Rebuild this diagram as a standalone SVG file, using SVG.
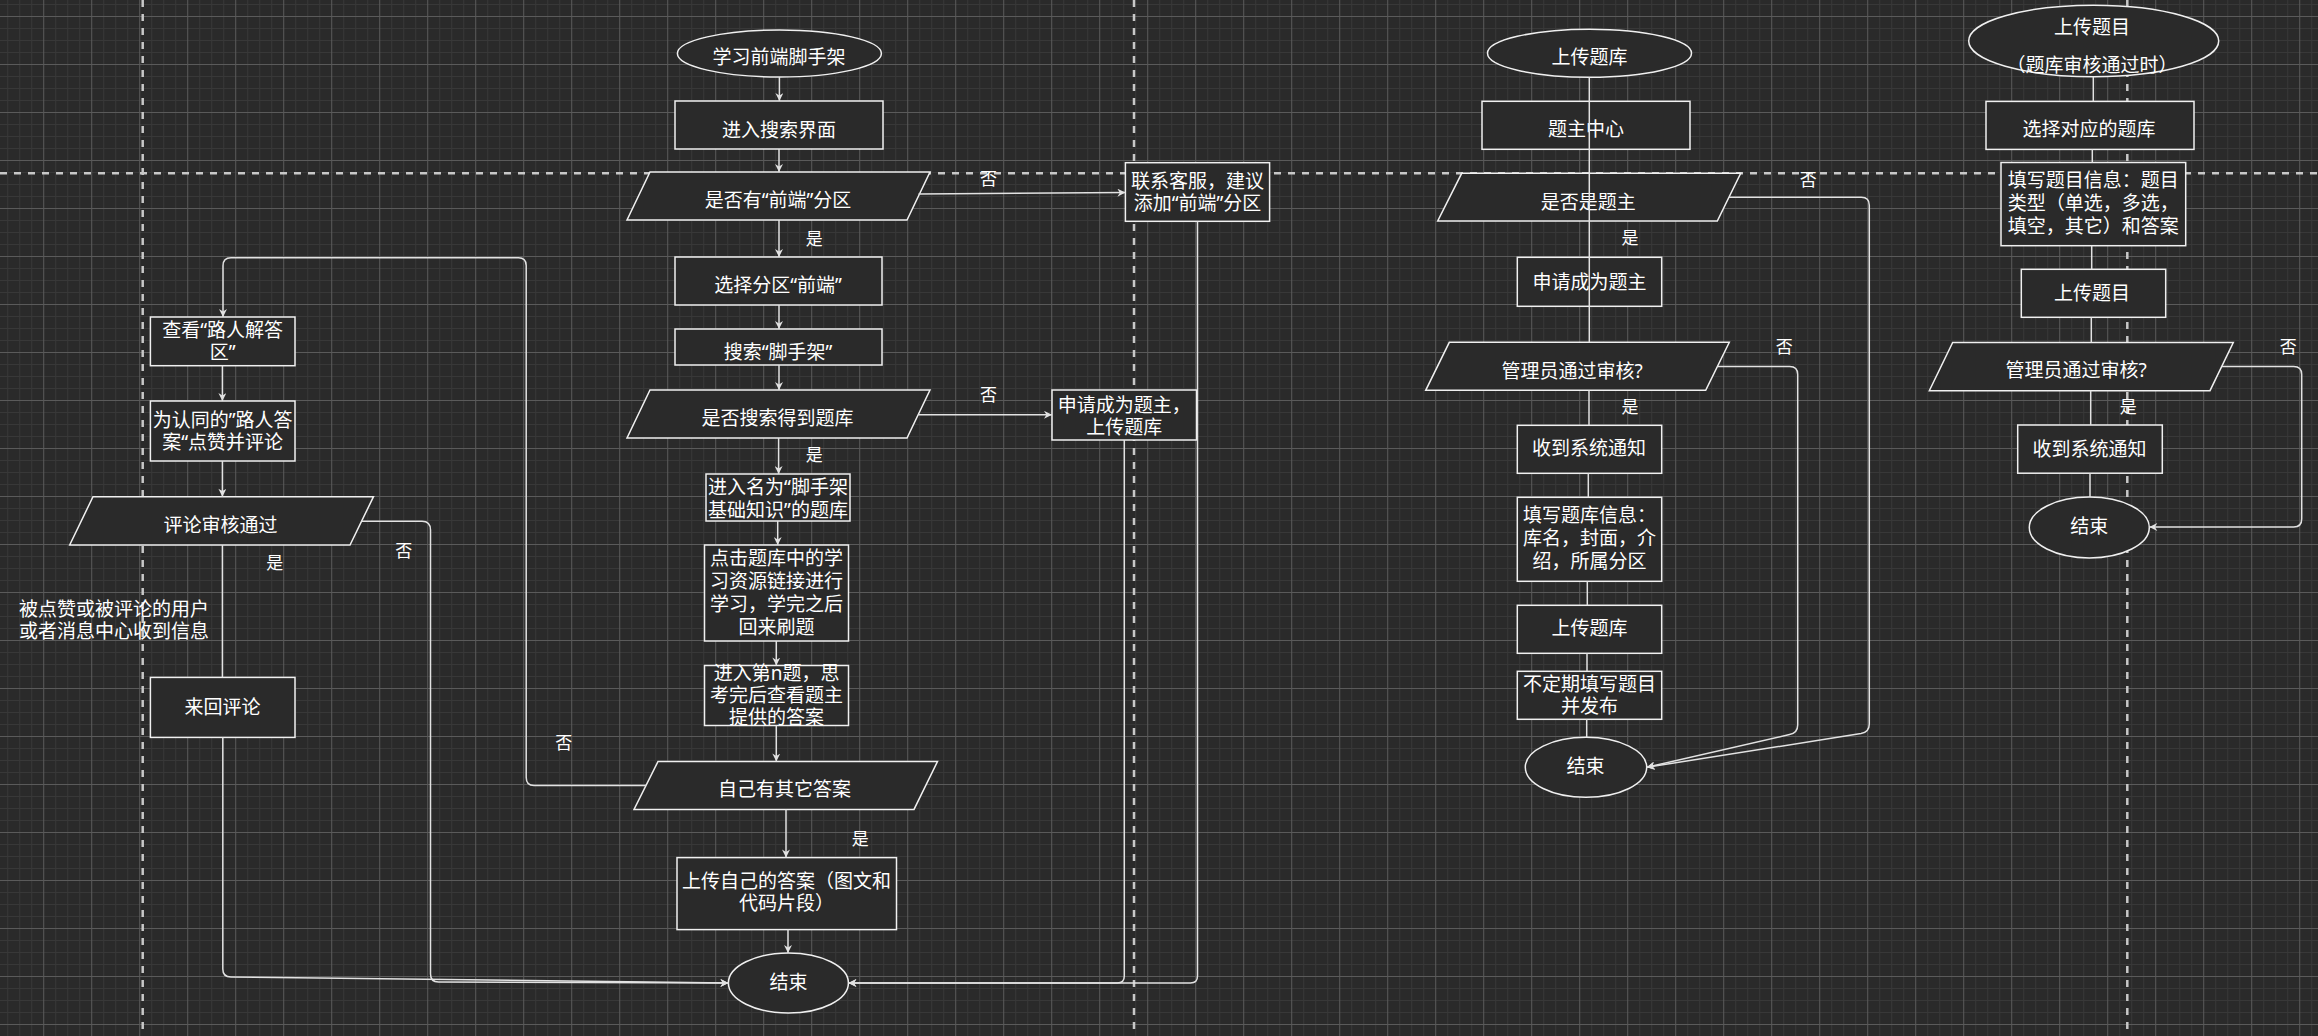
<svg xmlns="http://www.w3.org/2000/svg" width="2318" height="1036" viewBox="0 0 2318 1036">
<style>
.n{fill:#2a2a2a;stroke:#f0f0f0;stroke-width:1.5}
.t{font-family:"Noto Sans","Noto Sans CJK SC",sans-serif;font-size:19px;fill:#ffffff;text-anchor:middle}
.tl{font-family:"Noto Sans","Noto Sans CJK SC",sans-serif;font-size:19px;fill:#ffffff}
.l{font-family:"Noto Sans","Noto Sans CJK SC",sans-serif;font-size:17px;fill:#ffffff;text-anchor:middle}
.c{fill:none;stroke:#e2e2e2;stroke-width:1.5}
.a{marker-end:url(#arr)}
.d{stroke:#c8c8c8;stroke-width:2.5;stroke-dasharray:7 7;fill:none}
</style>
<defs>
<pattern id="grid" patternUnits="userSpaceOnUse" x="43.2" y="16" width="48" height="48">
<rect x="12" y="0" width="1" height="48" fill="#383838"/>
<rect x="24" y="0" width="1" height="48" fill="#383838"/>
<rect x="36" y="0" width="1" height="48" fill="#383838"/>
<rect x="0" y="12" width="48" height="1" fill="#383838"/>
<rect x="0" y="24" width="48" height="1" fill="#383838"/>
<rect x="0" y="36" width="48" height="1" fill="#383838"/>
<rect x="0" y="0" width="1" height="48" fill="#5a5a5a"/>
<rect x="0" y="0" width="48" height="1" fill="#5a5a5a"/>
</pattern>
<marker id="arr" viewBox="0 0 10 10" refX="10" refY="5" markerWidth="9" markerHeight="8" markerUnits="userSpaceOnUse" orient="auto">
<path d="M0,0 L10,5 L0,10 L3,5 Z" fill="#e2e2e2"/>
</marker>
</defs>
<rect x="0" y="0" width="2318" height="1036" fill="#2a2a2a"/>
<rect x="0" y="0" width="2318" height="1036" fill="url(#grid)"/>
<g id="swimlane-dividers">
<line class="d" x1="142.7" y1="0" x2="142.7" y2="1036"/>
<line class="d" x1="1134" y1="0" x2="1134" y2="1036"/>
<line class="d" x1="2127.3" y1="0" x2="2127.3" y2="1036"/>
<line class="d" x1="0" y1="173.3" x2="2318" y2="173.3"/>
</g>

<g id="n-start-learn"><ellipse class="n" cx="779.4" cy="53.5" rx="102" ry="23.5"/><text class="t" x="779" y="64">学习前端脚手架</text></g>
<g id="n-search-page"><rect class="n" x="675" y="101" width="208" height="48"/><text class="t" x="779" y="136.5">进入搜索界面</text></g>
<g id="n-has-frontend"><polygon class="n" points="650,172 930,172 907,220 627,220"/><text class="t" x="778" y="206.5">是否有“前端”分区</text></g>
<g id="n-select-frontend"><rect class="n" x="675" y="257" width="207" height="48"/><text class="t" x="778" y="292.3">选择分区“前端”</text></g>
<g id="n-search-scaffold"><rect class="n" x="675" y="329" width="207" height="36"/><text class="t" x="778" y="358.7">搜索“脚手架”</text></g>
<g id="n-found-bank"><polygon class="n" points="650,390 930,390 907,438 627,438"/><text class="t" x="777.5" y="425">是否搜索得到题库</text></g>
<g id="n-enter-bank"><rect class="n" x="706" y="474" width="144" height="47"/><text class="t" x="778" y="493.7">进入名为“脚手架<tspan x="778" dy="22.9">基础知识”的题库</tspan></text></g>
<g id="n-study"><rect class="n" x="704.5" y="545" width="144" height="96"/><text class="t" x="776.6" y="565">点击题库中的学<tspan x="776.6" dy="23.1">习资源链接进行</tspan><tspan x="776.6" dy="23">学习，学完之后</tspan><tspan x="776.6" dy="23">回来刷题</tspan></text></g>
<g id="n-question"><rect class="n" x="704.5" y="665.5" width="144" height="60"/><text class="t" x="776.6" y="679.6">进入第n题，思<tspan x="776.6" dy="22.3">考完后查看题主</tspan><tspan x="776.6" dy="22.1">提供的答案</tspan></text></g>
<g id="n-own-answer"><polygon class="n" points="658,761.5 937.5,761.5 914,809.4 634,809.4"/><text class="t" x="784.6" y="796.2">自己有其它答案</text></g>
<g id="n-upload-answer"><rect class="n" x="677" y="857.6" width="219.5" height="72"/><text class="t" x="786.6" y="888.2">上传自己的答案（图文和<tspan x="786.6" dy="22.2">代码片段）</tspan></text></g>
<g id="n-end-1"><ellipse class="n" cx="788.4" cy="983" rx="60" ry="30"/><text class="t" x="788.4" y="989.4">结束</text></g>
<g id="n-contact"><rect class="n" x="1125.4" y="162.7" width="144.2" height="58.6"/><text class="t" x="1197.5" y="187.7">联系客服，建议<tspan x="1197.5" dy="22.6">添加“前端”分区</tspan></text></g>
<g id="n-apply-owner-1"><rect class="n" x="1052" y="390" width="144.5" height="50"/><text class="t" x="1124.2" y="412">申请成为题主，<tspan x="1124.2" dy="22.3">上传题库</tspan></text></g>
<g id="n-view-answers"><rect class="n" x="150.4" y="317" width="144.6" height="48.7"/><text class="t" x="222.6" y="337">查看“路人解答<tspan x="222.6" dy="21.7">区”</tspan></text></g>
<g id="n-like"><rect class="n" x="150.4" y="401" width="144.6" height="60"/><text class="t" x="222.6" y="427">为认同的”路人答<tspan x="222.6" dy="21.7">案“点赞并评论</tspan></text></g>
<g id="n-review"><polygon class="n" points="93,496.7 373.5,496.7 350,545 69.7,545"/><text class="t" x="220.6" y="532">评论审核通过</text></g>
<g id="n-reply"><rect class="n" x="150.4" y="677.4" width="144.6" height="60"/><text class="t" x="222.6" y="713.5">来回评论</text></g>
<g id="n-note"><text class="tl" x="19" y="616.3">被点赞或被评论的用户<tspan x="19" dy="22">或者消息中心收到信息</tspan></text></g>

<g id="n-start-bank"><ellipse class="n" cx="1589.5" cy="53.3" rx="102" ry="24"/><text class="t" x="1589.5" y="64">上传题库</text></g>
<g id="n-owner-center"><rect class="n" x="1482" y="101.3" width="208" height="48"/><text class="t" x="1586" y="136">题主中心</text></g>
<g id="n-is-owner"><polygon class="n" points="1461.7,173.3 1740.7,173.3 1717.3,221 1437.7,221"/><text class="t" x="1588.3" y="208.7">是否是题主</text></g>
<g id="n-apply-owner-2"><rect class="n" x="1517.3" y="257.3" width="144.4" height="49"/><text class="t" x="1589.5" y="288.7">申请成为题主</text></g>
<g id="n-admin-1"><polygon class="n" points="1449.3,342.3 1729.3,342.3 1705.7,390.3 1425.7,390.3"/><text class="t" x="1572" y="377.5">管理员通过审核?</text></g>
<g id="n-notice-1"><rect class="n" x="1517.3" y="425.3" width="144.4" height="48"/><text class="t" x="1589" y="455.3">收到系统通知</text></g>
<g id="n-bank-info"><rect class="n" x="1517.3" y="497.3" width="144.4" height="84"/><text class="t" x="1589.5" y="522">填写题库信息：<tspan x="1589.5" dy="23.3">库名，封面，介</tspan><tspan x="1589.5" dy="22.4">绍，所属分区</tspan></text></g>
<g id="n-upload-bank"><rect class="n" x="1517.3" y="605.3" width="144.4" height="48"/><text class="t" x="1589.5" y="635.3">上传题库</text></g>
<g id="n-publish"><rect class="n" x="1517.3" y="671.3" width="144.4" height="48"/><text class="t" x="1589.5" y="691">不定期填写题目<tspan x="1589.5" dy="22">并发布</tspan></text></g>
<g id="n-end-2"><ellipse class="n" cx="1586" cy="767.3" rx="60.7" ry="30"/><text class="t" x="1585.5" y="773.2">结束</text></g>

<g id="n-start-question"><ellipse class="n" cx="2093.7" cy="41" rx="125" ry="35.7"/><text class="t" x="2092" y="33.8">上传题目<tspan x="2092" dy="38.6">（题库审核通过时）</tspan></text></g>
<g id="n-choose-bank"><rect class="n" x="1986" y="101.4" width="208" height="48"/><text class="t" x="2089" y="136.3">选择对应的题库</text></g>
<g id="n-question-info"><rect class="n" x="2001" y="162.5" width="184.7" height="83.2"/><text class="t" x="2093.3" y="187.4">填写题目信息：题目<tspan x="2093.3" dy="22.5">类型（单选，多选，</tspan><tspan x="2093.3" dy="22.8">填空，其它）和答案</tspan></text></g>
<g id="n-upload-question"><rect class="n" x="2021.3" y="269.3" width="144.4" height="48"/><text class="t" x="2092" y="299.9">上传题目</text></g>
<g id="n-admin-2"><polygon class="n" points="1952.7,342.5 2233.3,342.5 2210,390.7 1929.3,390.7"/><text class="t" x="2076" y="377.4">管理员通过审核?</text></g>
<g id="n-notice-2"><rect class="n" x="2017.7" y="425" width="144.6" height="48.2"/><text class="t" x="2089.5" y="455.6">收到系统通知</text></g>
<g id="n-end-3"><ellipse class="n" cx="2089.3" cy="527.5" rx="60" ry="30.4"/><text class="t" x="2089.2" y="532.5">结束</text></g>

<g id="connectors">
<path class="c a" d="M779.4,77 L779.4,101"/>
<path class="c a" d="M779,149 L779,172"/>
<path class="c a" d="M779,220 L779,257"/>
<path class="c a" d="M918.5,194 L1125.4,192.6"/>
<path class="c a" d="M779,305 L779,329"/>
<path class="c a" d="M779,365 L779,390"/>
<path class="c a" d="M918.5,414.8 L1052,414.8"/>
<path class="c a" d="M778.6,438 L778.6,474"/>
<path class="c a" d="M777.7,521 L777.7,545"/>
<path class="c a" d="M776.3,641 L776.3,665.5"/>
<path class="c a" d="M776.3,725.5 L776.3,761.5"/>
<path class="c a" d="M786,809.4 L786,857.6"/>
<path class="c a" d="M788,929.6 L788,953"/>
<path class="c a" d="M1124.3,440 L1124.3,976 Q1124.3,983 1117.3,983 L848.4,983"/>
<path class="c a" d="M1197.5,221.3 L1197.5,976 Q1197.5,983 1190.5,983 L848.4,983"/>
<path class="c a" d="M361.7,521.2 L422,521.2 Q430.5,521.2 430.5,530 L430.5,974 Q430.5,982 438.5,982 L728.4,983"/>
<path class="c a" d="M222.8,737.3 L222.8,969 Q222.8,977 231,977 L728.4,983"/>
<path class="c a" d="M646,785.5 L534,785.5 Q526.2,785.5 526.2,777.5 L526.2,265.5 Q526.2,257.7 518.4,257.7 L231,257.7 Q223,257.7 223,265.7 L223,317"/>
<path class="c a" d="M222.4,365.7 L222.4,401"/>
<path class="c a" d="M222.4,461 L222.4,496.7"/>
<path class="c" d="M222.4,545 L222.4,677.4"/>
<path class="c" d="M1589.3,77.3 L1589.3,342.3"/>
<path class="c" d="M1589,390.3 L1589,425.3"/>
<path class="c" d="M1588.3,473.3 L1588.3,497.3"/>
<path class="c" d="M1587.3,581.3 L1587.3,605.3"/>
<path class="c" d="M1587,653.3 L1587,671.3"/>
<path class="c" d="M1586.7,719.3 L1586.7,737.3"/>
<path class="c a" d="M1729,197.3 L1861.3,197.3 Q1869.3,197.3 1869.3,205.3 L1869.3,724 Q1869.3,732 1861,733.6 L1646.7,767.3"/>
<path class="c a" d="M1717.5,366.5 L1789.7,366.5 Q1797.7,366.5 1797.7,374.5 L1797.7,725 Q1797.7,733 1789.5,734.6 L1646.7,767.3"/>
<path class="c" d="M2093.3,76.8 L2093.3,101.4"/>
<path class="c" d="M2092.3,149.4 L2092.3,162.5"/>
<path class="c" d="M2091.7,245.7 L2091.7,269.3"/>
<path class="c" d="M2091.3,317.3 L2091.3,342.5"/>
<path class="c" d="M2090.7,390.7 L2090.7,425"/>
<path class="c" d="M2090,473.2 L2090,497.1"/>
<path class="c a" d="M2221.7,366.6 L2293.7,366.6 Q2301.7,366.6 2301.7,374.6 L2301.7,519 Q2301.7,527 2293.7,527 L2149.3,527"/>
</g>

<g id="edge-labels">
<text class="l" x="814.3" y="244.6">是</text>
<text class="l" x="988.4" y="184.6">否</text>
<text class="l" x="988.4" y="401.3">否</text>
<text class="l" x="814.3" y="461.3">是</text>
<text class="l" x="860.3" y="844.8">是</text>
<text class="l" x="274.8" y="569.3">是</text>
<text class="l" x="403.7" y="557.3">否</text>
<text class="l" x="563.7" y="749">否</text>
<text class="l" x="1808.3" y="186.3">否</text>
<text class="l" x="1630" y="244">是</text>
<text class="l" x="1784.3" y="353">否</text>
<text class="l" x="1630" y="413">是</text>
<text class="l" x="2288.3" y="352.7">否</text>
<text class="l" x="2128.3" y="413.3">是</text>
</g>
</svg>
